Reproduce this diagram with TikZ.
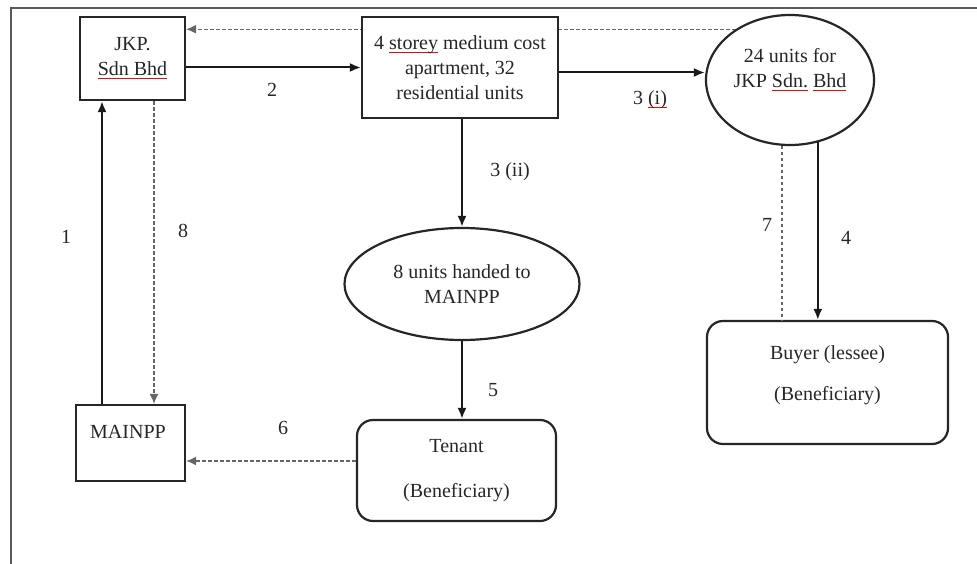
\documentclass[tikz,border=0pt]{standalone}
\usepackage{fontspec}
\setmainfont{Liberation Serif}
\usetikzlibrary{shapes.geometric,arrows.meta,backgrounds}
\newsavebox\spellbox
\newcommand\spell[1]{\sbox\spellbox{#1}\rlap{\textcolor{red}{\rule[-3.5pt]{\wd\spellbox}{1pt}}}\usebox\spellbox}
\begin{document}
\begin{tikzpicture}[x=1pt,y=-1pt,
  font=\fontsize{20}{25}\selectfont,
  every node/.style={text=black!85},
  box/.style={draw=black!85, line width=2.2pt, fill=white, align=center, inner sep=0pt},
  rbox/.style={box, rounded corners=16pt},
  ell/.style={box, ellipse},
  txt/.style={align=center, inner sep=0pt},
  arr/.style={draw=black!90, line width=2pt, -{Latex[length=11pt,width=9pt]}},
  dsh/.style={draw=black!60, line width=1.3pt, dash pattern=on 3.5pt off 2.5pt},
  dsharr/.style={dsh, -{Latex[length=10pt,width=9pt]}}]
\useasboundingbox (0,0) rectangle (977,564);
\draw[draw=black!65, line width=2.2pt] (11,564) -- (11,8) -- (977,8);

\node[box, minimum width=105pt, minimum height=83pt] (jkp) at (132.5,58.5) {JKP.\\\spell{Sdn Bhd}};
\node[box, minimum width=196pt, minimum height=101pt] (top) at (460,67.5) {4 \spell{storey} medium cost\\apartment, 32\\residential units};
\node[ell, minimum width=168pt, minimum height=130pt] (e1) at (790,80) {};
\node[txt] (e1t) at (790,70) {24 units for\\JKP \spell{Sdn.} \spell{Bhd}};
\node[ell, minimum width=235pt, minimum height=112pt] (e2) at (462,284) {8 units handed to\\MAINPP};
\node[rbox, minimum width=199pt, minimum height=101pt] (tenant) at (456.5,470.5) {Tenant\\[20pt](Beneficiary)};
\node[rbox, minimum width=241pt, minimum height=123pt] (buyer) at (827.5,382.5) {};
\node[txt] (buyert) at (827.5,375.5) {Buyer (lessee)\\[16pt](Beneficiary)};
\node[box, minimum width=109pt, minimum height=76pt] (mainpp) at (130.5,443) {};
\node[txt] (mainppt) at (128,432) {MAINPP};

\begin{scope}[on background layer]
\draw[dsharr] (e1.137.5) -- (e1.137.5 -| jkp.east);
\end{scope}

\draw[arr] ([xshift=-28.5pt]mainpp.north) -- ([xshift=-30.5pt]jkp.south);
\draw[dsharr] ([xshift=21.5pt]jkp.south) -- ([xshift=23.5pt]mainpp.north);
\draw[arr] (jkp.east |- top.west) -- (top.west);
\draw[arr] ([yshift=-5pt]top.east) -- ([yshift=-5pt]top.east -| e1.west);
\draw[arr] ([xshift=2pt]top.south) -- (e2.north);
\draw[arr] (e2.south) -- (e2.south |- tenant.north);
\draw[dsharr] ([yshift=9.5pt]tenant.west) -- ([yshift=9.5pt]tenant.west -| mainpp.east);
\draw[arr] (e1.294.6) -- (buyer.north -| e1.294.6);
\draw[dsh] (e1.263) -- (buyer.north -| e1.263);

\node[txt] (l1) at (66,237) {1};
\node[txt] (l2) at (272,90) {2};
\node[txt] (l3a) at (650,100) {3 \spell{(i)}};
\node[txt] (l3b) at (510,172) {3 (ii)};
\node[txt] (l4) at (846,238) {4};
\node[txt] (l5) at (493,390) {5};
\node[txt] (l6) at (283,428) {6};
\node[txt] (l7) at (767,225) {7};
\node[txt] (l8) at (183,231) {8};
\end{tikzpicture}
\end{document}
